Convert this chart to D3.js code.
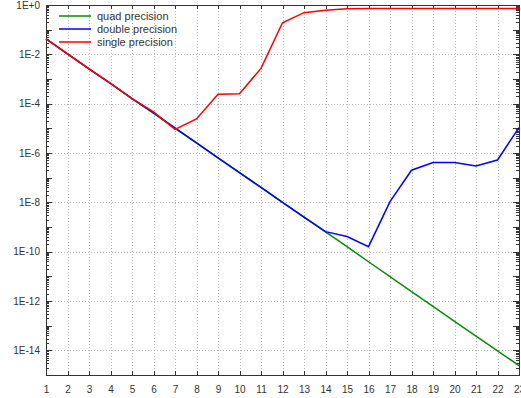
<!DOCTYPE html>
<meta charset="utf-8">
<style>
  body { margin: 0; background: #fff; }
  svg { font: 11px "Liberation Sans", Arial, sans-serif; }
  .grid line { stroke: #b4b4b4; stroke-dasharray: 1,2; shape-rendering: crispEdges; }
  .axis path, .axis line { stroke: #333; shape-rendering: crispEdges; }
  .axis text { fill: #333; }
  .series { fill: none; stroke-width: 1.5px; }
</style>
<body>
<div id="graph-container"></div>
<script src="https://cdn.jsdelivr.net/npm/d3@7"></script>
<script>
  // values (x = 1..23)
  var steps = d3.range(1, 24);
  var quad = [4.2e-2, 1.05e-2, 2.6e-3, 6.6e-4, 1.6e-4, 4.1e-5, 1.0e-5, 2.6e-6, 6.4e-7, 1.6e-7,
              4.0e-8, 1.0e-8, 2.5e-9, 6.3e-10, 1.6e-10, 3.9e-11, 9.8e-12, 2.4e-12, 6.1e-13,
              1.5e-13, 3.8e-14, 9.6e-15, 2.4e-15];
  var double = [4.2e-2, 1.05e-2, 2.6e-3, 6.6e-4, 1.6e-4, 4.2e-5, 1.05e-5, 2.6e-6, 6.4e-7, 1.6e-7,
                4.0e-8, 1.0e-8, 2.5e-9, 6.5e-10, 4.1e-10, 1.6e-10, 1.07e-8, 2.0e-7, 4.1e-7,
                4.1e-7, 3.0e-7, 5.2e-7, 1.07e-5];
  var single = [4.2e-2, 1.05e-2, 2.6e-3, 6.6e-4, 1.6e-4, 4.6e-5, 9.1e-6, 2.4e-5, 2.4e-4, 2.5e-4,
                2.7e-3, 0.19, 0.49, 0.61, 0.71, 0.72, 0.72, 0.72, 0.72, 0.72, 0.72, 0.72, 0.72];
  var seriesNames = ["quad precision", "double precision", "single precision"];
  var seriesColors = ["#0a8a0a", "#0000ff", "#ff0000"];
  var yLabelTicks = [1, 1e-2, 1e-4, 1e-6, 1e-8, 1e-10, 1e-12, 1e-14];
  var yLabels = ["1E+0", "1E-2", "1E-4", "1E-6", "1E-8", "1E-10", "1E-12", "1E-14"];

  var W = 521, H = 398;
  var m = [5, 2, 23, 46]; // top, right, bottom, left
  var w = W - m[1] - m[3], h = H - m[0] - m[2];

  var x = d3.scaleLinear().domain([1, 23]).range([0, w]);
  var y = d3.scaleLog().domain([1e-15, 1]).range([h, 0]);

  var svg = d3.select("#graph-container").append("svg")
      .attr("width", W)
      .attr("height", H)
    .append("g")
      .attr("transform", "translate(" + m[3] + "," + m[0] + ")");

  // dotted grid
  var grid = svg.append("g").attr("class", "grid");
  grid.selectAll(".gx").data(steps.slice(1, -1)).enter().append("line")
      .attr("x1", function(d) { return Math.round(x(d)) + 0.5; })
      .attr("x2", function(d) { return Math.round(x(d)) + 0.5; })
      .attr("y1", 0).attr("y2", h);
  grid.selectAll(".gy").data(yLabelTicks.slice(1)).enter().append("line")
      .attr("x1", 0).attr("x2", w)
      .attr("y1", function(d) { return Math.round(y(d)) + 0.5; })
      .attr("y2", function(d) { return Math.round(y(d)) + 0.5; });

  // minor / decade tick values for the log axes
  var decades = d3.range(0, 16).map(function(k) { return Math.pow(10, -k); });
  var minors = [];
  decades.slice(1).forEach(function(dv) {
    for (var j = 2; j <= 9; j++) minors.push(j * dv);
  });

  // bottom axis with labels
  svg.append("g").attr("class", "axis")
      .attr("transform", "translate(0," + h + ")")
      .call(d3.axisBottom(x).tickValues(steps).tickSize(-4).tickPadding(11).tickFormat(d3.format("d")));
  svg.append("g").attr("class", "axis")
      .call(d3.axisTop(x).tickValues(steps).tickSize(-4).tickFormat(""));

  // left axis
  svg.append("g").attr("class", "axis")
      .call(d3.axisLeft(y).tickValues(yLabelTicks).tickSize(0).tickPadding(6)
        .tickFormat(function(d, i) { return yLabels[i]; }));
  svg.append("g").attr("class", "axis")
      .call(d3.axisLeft(y).tickValues(decades).tickSize(-6).tickFormat(""));
  svg.append("g").attr("class", "axis")
      .call(d3.axisLeft(y).tickValues(minors).tickSize(-3).tickFormat(""));

  // right axis
  svg.append("g").attr("class", "axis")
      .attr("transform", "translate(" + w + ",0)")
      .call(d3.axisRight(y).tickValues(decades).tickSize(-6).tickFormat(""));
  svg.append("g").attr("class", "axis")
      .attr("transform", "translate(" + w + ",0)")
      .call(d3.axisRight(y).tickValues(minors).tickSize(-3).tickFormat(""));

  svg.selectAll(".axis .domain").attr("stroke", "#333");

  // series lines
  var line = d3.line()
      .x(function(d, i) { return x(steps[i]); })
      .y(function(d) { return y(d); });

  [quad, double, single].forEach(function(s, i) {
    svg.append("path")
        .attr("class", "series")
        .attr("d", line(s))
        .style("stroke", seriesColors[i]);
  });

  // legend
  var legend = svg.selectAll(".legend")
      .data(seriesNames)
      .enter().append("g")
      .attr("class", "legend")
      .attr("transform", function(d, i) { return "translate(13," + (11 + i * 13) + ")"; });
  legend.append("line")
      .attr("x1", 0).attr("x2", 32)
      .style("stroke", function(d, i) { return seriesColors[i]; })
      .style("stroke-width", "1.5px");
  legend.append("text")
      .attr("x", 38)
      .attr("dy", "0.35em")
      .style("fill", "#333")
      .text(String);
</script>
</body>
